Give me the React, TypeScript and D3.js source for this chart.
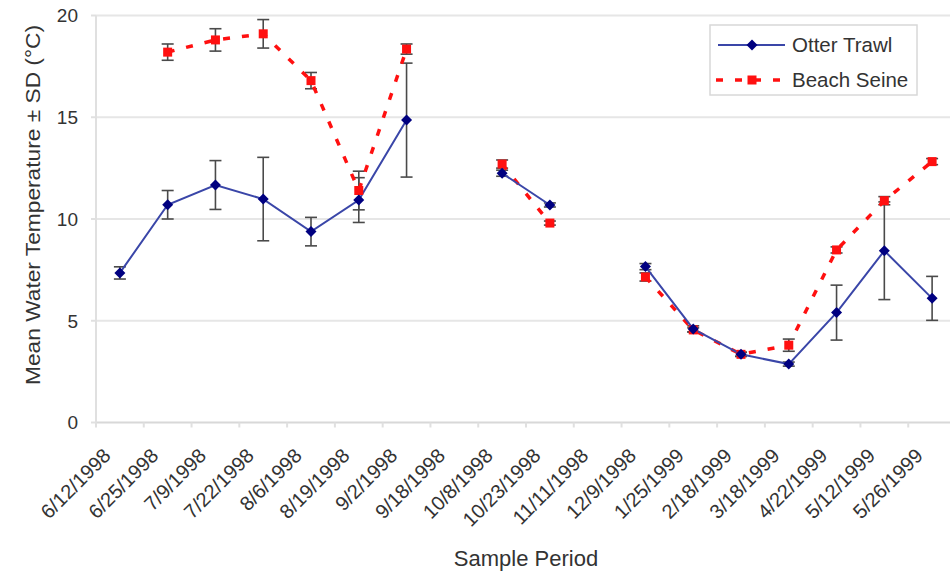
import React from "react";
import * as d3 from "d3";

const categories = [
  "6/12/1998", "6/25/1998", "7/9/1998", "7/22/1998", "8/6/1998", "8/19/1998",
  "9/2/1998", "9/18/1998", "10/8/1998", "10/23/1998", "11/11/1998", "12/9/1998",
  "1/25/1999", "2/18/1999", "3/18/1999", "4/22/1999", "5/12/1999", "5/26/1999",
];
const otterMean: (number | null)[] = [7.35, 10.7, 11.67, 10.98, 9.38, 10.93, 14.86, null, 12.25, 10.69, null, 7.66, 4.6, 3.35, 2.87, 5.4, 8.44, 6.1];
const otterSD: (number | null)[] = [0.3, 0.7, 1.2, 2.05, 0.7, 1.1, 2.8, null, 0.15, 0.1, null, 0.15, 0.15, 0.1, 0.1, 1.35, 2.4, 1.08];
const seineMean: (number | null)[] = [null, 18.2, 18.8, 19.1, 16.8, 11.4, 18.35, null, 12.7, 9.8, null, 7.15, 4.55, 3.35, 3.8, 8.48, 10.9, 12.82];
const seineSD: (number | null)[] = [null, 0.4, 0.55, 0.7, 0.4, 0.95, 0.25, null, 0.2, 0.1, null, 0.2, 0.1, 0.1, 0.3, 0.15, 0.2, 0.15];
const yTicks = [0, 5, 10, 15, 20];
const seriesNames = ["Otter Trawl", "Beach Seine"];

const FONT = "Liberation Sans, Arial, sans-serif";

export default function App() {
  const W = 950, H = 575;
  const x = d3.scaleBand<string>().domain(categories).range([96, 956]);
  const y = d3.scaleLinear().domain([0, 20]).range([422.5, 15.5]);
  const cx = (i: number) => (x(categories[i]) as number) + x.bandwidth() / 2;

  const line = d3.line<number | null>()
    .defined((d) => d !== null)
    .x((_, i) => cx(i))
    .y((d) => y(d as number));

  const errBars = (means: (number | null)[], sds: (number | null)[], key: string) =>
    means.map((m, i) => {
      if (m === null || sds[i] === null) return null;
      const sd = sds[i] as number;
      const x0 = cx(i);
      const y1 = y(m + sd), y2 = y(m - sd);
      return (
        <g key={key + i} stroke="#4a4a4a" strokeWidth={1.6}>
          <line x1={x0} x2={x0} y1={y1} y2={y2} />
          <line x1={x0 - 6} x2={x0 + 6} y1={y1} y2={y1} />
          <line x1={x0 - 6} x2={x0 + 6} y1={y2} y2={y2} />
        </g>
      );
    });

  const diamond = (px: number, py: number, key: string) => (
    <path key={key} d={`M${px},${py - 5.5}L${px + 5.5},${py}L${px},${py + 5.5}L${px - 5.5},${py}Z`} fill="#000080" />
  );
  const square = (px: number, py: number, key: string) => (
    <rect key={key} x={px - 4.5} y={py - 4.5} width={9} height={9} fill="#ff1010" />
  );

  return (
    <svg width={W} height={H} style={{ position: "absolute", left: 0, top: 0, background: "#fff" }} fontFamily={FONT}>
      {/* gridlines */}
      {yTicks.map((t) => (
        <line key={"g" + t} x1={96} x2={956} y1={y(t)} y2={y(t)} stroke={t === 0 ? "#d8d8d8" : "#e6e6e6"} strokeWidth={2} />
      ))}
      <line x1={96} x2={96} y1={y(20)} y2={y(0)} stroke="#e0e0e0" strokeWidth={2} />
      {yTicks.map((t) => (
        <line key={"yt" + t} x1={91} x2={96} y1={y(t)} y2={y(t)} stroke="#e0e0e0" strokeWidth={2} />
      ))}
      {categories.map((c, i) => (
        <line key={"xt" + i} x1={(x(c) as number)} x2={(x(c) as number)} y1={y(0)} y2={y(0) + 5} stroke="#e0e0e0" strokeWidth={2} />
      ))}
      {/* y tick labels */}
      {yTicks.map((t) => (
        <text key={"yl" + t} x={78} y={y(t)} dy="0.36em" textAnchor="end" fontSize={19} fill="#333">{t}</text>
      ))}
      {/* x tick labels */}
      {categories.map((c, i) => (
        <text key={"xl" + i} transform={`translate(${cx(i) - 8},${457}) rotate(-45)`} textAnchor="end" fontSize={20} fill="#333">{c}</text>
      ))}
      {/* axis titles */}
      <text transform={`translate(40,205) rotate(-90)`} textAnchor="middle" fontSize={21} fill="#333" textLength={360} lengthAdjust="spacingAndGlyphs">Mean Water Temperature ± SD (°C)</text>
      <text x={526} y={566} textAnchor="middle" fontSize={22} fill="#333">Sample Period</text>

      {/* error bars */}
      {errBars(seineMean, seineSD, "se")}
      {errBars(otterMean, otterSD, "oe")}

      {/* lines */}
      <path d={line(seineMean) || ""} fill="none" stroke="#ff1010" strokeWidth={3.5} strokeDasharray="7,12" />
      <path d={line(otterMean) || ""} fill="none" stroke="#3a46a8" strokeWidth={2} />

      {seineMean.map((m, i) => (m === null ? null : square(cx(i), y(m), "sq" + i)))}
      {otterMean.map((m, i) => (m === null ? null : diamond(cx(i), y(m), "di" + i)))}

      {/* legend */}
      <rect x={710} y={25} width={207} height={70} fill="#fff" stroke="#d8d8d8" strokeWidth={1.5} />
      <line x1={718} x2={785} y1={45} y2={45} stroke="#3a46a8" strokeWidth={2} />
      {diamond(752, 45, "ld")}
      <text x={792} y={45} dy="0.36em" fontSize={20.5} fill="#333">{seriesNames[0]}</text>
      <line x1={716} x2={788} y1={80} y2={80} stroke="#ff1010" strokeWidth={3.5} strokeDasharray="7,12" />
      {square(752, 80, "ls")}
      <text x={792} y={80} dy="0.36em" fontSize={20.5} fill="#333">{seriesNames[1]}</text>
    </svg>
  );
}
